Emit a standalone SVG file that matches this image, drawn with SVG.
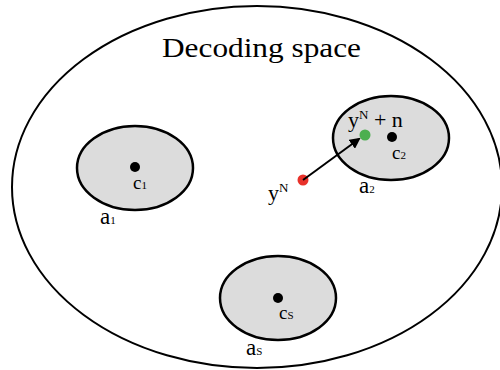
<svg xmlns="http://www.w3.org/2000/svg" width="500" height="370" viewBox="0 0 500 370">
<style>
.region{fill:#dcdcdc;stroke:#000;stroke-width:2.5}
.lbl{font-family:"Liberation Serif","DejaVu Serif",serif;fill:#000}
.sub{font-size:11px}
.sup{font-size:13px}
</style>
<defs>
<marker id="ah" markerWidth="11" markerHeight="11" refX="9" refY="5.5" orient="auto" markerUnits="userSpaceOnUse">
<path d="M0,0 L11,5.5 L0,11 z" fill="#000"/>
</marker>
</defs>
<rect width="500" height="370" fill="#fff"/>
<g id="space">
<ellipse cx="257" cy="187" rx="245" ry="181" fill="none" stroke="#000" stroke-width="2"/>
<text class="lbl" x="162" y="57" font-size="27" textLength="199" lengthAdjust="spacingAndGlyphs">Decoding space</text>
</g>
<g id="a1">
<ellipse class="region" cx="135" cy="168" rx="58" ry="42"/>
<circle cx="135" cy="167" r="5" fill="#000"/>
<text class="lbl" x="133" y="189" font-size="19">c<tspan class="sub">1</tspan></text>
<text class="lbl" x="100" y="224" font-size="23">a<tspan class="sub">1</tspan></text>
</g>
<g id="a2">
<ellipse class="region" cx="391" cy="138" rx="58" ry="42"/>
<circle cx="392" cy="137" r="5" fill="#000"/>
<text class="lbl" x="392" y="159" font-size="19">c<tspan class="sub">2</tspan></text>
<text class="lbl" x="359" y="193" font-size="23">a<tspan class="sub">2</tspan></text>
<text class="lbl" x="348" y="127" font-size="22">y<tspan class="sup" dy="-8">N</tspan><tspan dy="8"> + n</tspan></text>
</g>
<g id="as">
<ellipse class="region" cx="278" cy="298" rx="58" ry="42"/>
<circle cx="278" cy="298" r="5" fill="#000"/>
<text class="lbl" x="279" y="319" font-size="19">c<tspan class="sub">S</tspan></text>
<text class="lbl" x="246" y="355" font-size="23">a<tspan class="sub">S</tspan></text>
</g>
<g id="points">
<circle id="yN" cx="303" cy="180" r="5.5" fill="#e8312a"/>
<text class="lbl" x="268" y="200" font-size="22">y<tspan class="sup" dy="-8">N</tspan></text>
<circle id="yNn" cx="365" cy="135" r="5.5" fill="#4caf50"/>
</g>
<g id="connectors">
<line x1="303" y1="180" x2="359" y2="139" stroke="#000" stroke-width="2" marker-end="url(#ah)"/>
</g>
</svg>
